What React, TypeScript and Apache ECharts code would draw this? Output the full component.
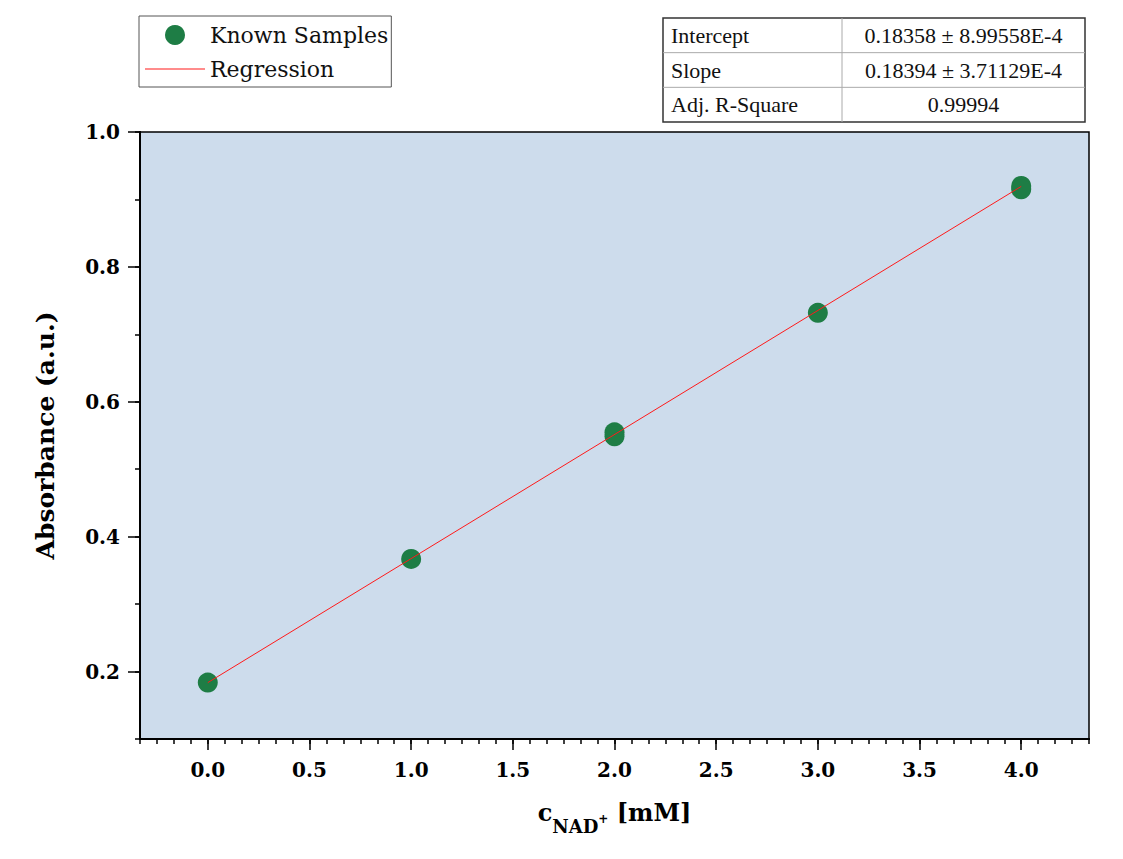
import React, { useEffect, useRef } from 'react';
import * as echarts from 'echarts';

// ---- data ----
const sampleX = [0, 1, 2, 2, 3, 4, 4];
const sampleY = [0.1837, 0.367, 0.5547, 0.5488, 0.7319, 0.92, 0.915];
const regressionX = [0, 4];
const regressionY = [0.18358, 0.91934];
const xMajorTicks = [0, 0.5, 1, 1.5, 2, 2.5, 3, 3.5, 4];
const yMajorTicks = [0.2, 0.4, 0.6, 0.8, 1.0];
const legendNames = ['Known Samples', 'Regression'];
const tableLabels = ['Intercept', 'Slope', 'Adj. R-Square'];
const tableValues = ['0.18358 ± 8.99558E-4', '0.18394 ± 3.71129E-4', '0.99994'];
const yTitle = 'Absorbance (a.u.)';

const X_MIN = -1 / 3;
const X_MAX = 13 / 3;
const Y_MIN = 0.1;
const Y_MAX = 1.0;

const SERIF = 'DejaVu Serif';
const TABLE_FONT = 'Liberation Serif';

export default function App() {
  const ref = useRef<HTMLDivElement>(null);

  useEffect(() => {
    if (!ref.current) return;
    const chart = echarts.init(ref.current, undefined, { renderer: 'svg' });

    const gridPos = { left: 140, right: 34, top: 132, bottom: 120, outerBoundsMode: 'none' };
    const axisLine = { show: true, onZero: false, lineStyle: { color: '#000', width: 2 } };
    const tickLine = { color: '#000', width: 1.5 };
    const labelStyle = { fontFamily: SERIF, fontWeight: 'bold' as const, fontSize: 20, color: '#000' };

    // table graphic
    const tLeft = 663, tTop = 18, tRight = 1085, tBottom = 122, tCol = 842;
    const rowH = (tBottom - tTop) / 3;
    const tableEls: any[] = [
      { type: 'rect', shape: { x: tLeft, y: tTop, width: tRight - tLeft, height: tBottom - tTop }, style: { fill: '#fff', stroke: '#333', lineWidth: 1.5 } },
      { type: 'line', shape: { x1: tCol, y1: tTop, x2: tCol, y2: tBottom }, style: { stroke: '#aaa', lineWidth: 1 } },
      { type: 'line', shape: { x1: tLeft, y1: tTop + rowH, x2: tRight, y2: tTop + rowH }, style: { stroke: '#aaa', lineWidth: 1 } },
      { type: 'line', shape: { x1: tLeft, y1: tTop + 2 * rowH, x2: tRight, y2: tTop + 2 * rowH }, style: { stroke: '#aaa', lineWidth: 1 } },
    ];
    tableLabels.forEach((lab, i) => {
      tableEls.push({
        type: 'text',
        x: tLeft + 8,
        y: tTop + rowH * (i + 0.5),
        style: { text: lab, fill: '#111', fontFamily: TABLE_FONT, fontSize: 22, textAlign: 'left', textVerticalAlign: 'middle' },
      });
      tableEls.push({
        type: 'text',
        x: (tCol + tRight) / 2,
        y: tTop + rowH * (i + 0.5),
        style: { text: tableValues[i], fill: '#111', fontFamily: TABLE_FONT, fontSize: 22, textAlign: 'center', textVerticalAlign: 'middle' },
      });
    });

    const option: any = {
      animation: false,
      backgroundColor: '#fff',
      grid: [
        { ...gridPos, show: true, backgroundColor: '#cddcec', borderColor: '#000', borderWidth: 1.5 },
        { ...gridPos, show: false },
      ],
      legend: {
        show: true,
        orient: 'vertical',
        left: 139,
        top: 16,
        padding: [8, 3, 7, 6],
        itemGap: 12,
        itemWidth: 60,
        itemHeight: 20,
        borderColor: '#555',
        borderWidth: 1,
        backgroundColor: '#fff',
        textStyle: { fontFamily: SERIF, fontSize: 22, color: '#111' },
        data: [
          { name: legendNames[0] },
          { name: legendNames[1], icon: 'path://M0 0H60V1.2H0Z' },
        ],
      },
      xAxis: [
        {
          gridIndex: 0,
          type: 'value',
          min: X_MIN,
          max: X_MAX,
          interval: 1 / 12,
          axisLine,
          axisTick: { show: true, length: 5, lineStyle: tickLine },
          axisLabel: { show: false },
          splitLine: { show: false },
        },
        {
          gridIndex: 1,
          type: 'value',
          min: X_MIN,
          max: X_MAX,
          axisLine,
          axisTick: { show: true, length: 11, customValues: xMajorTicks, lineStyle: tickLine },
          axisLabel: { ...labelStyle, customValues: xMajorTicks, margin: 21, formatter: (v: number) => v.toFixed(1) },
          splitLine: { show: false },
          name: '{m|c}{sub|NAD}{sup|+}{m| [mM]}',
          nameLocation: 'middle',
          nameGap: 66,
          nameTextStyle: {
            rich: {
              m: { fontFamily: SERIF, fontWeight: 'bold', fontSize: 24, color: '#000', lineHeight: 28, padding: [0, 0, 14, 0] },
              sub: { fontFamily: SERIF, fontWeight: 'bold', fontSize: 18, color: '#000', lineHeight: 22, padding: [14, 0, 0, 0] },
              sup: { fontFamily: SERIF, fontWeight: 'bold', fontSize: 12, color: '#000', lineHeight: 14 },
            },
          },
        },
      ],
      yAxis: [
        {
          gridIndex: 0,
          type: 'value',
          min: Y_MIN,
          max: Y_MAX,
          interval: 0.1,
          axisLine,
          axisTick: { show: true, length: 5, lineStyle: tickLine },
          axisLabel: { show: false },
          splitLine: { show: false },
        },
        {
          gridIndex: 1,
          type: 'value',
          min: Y_MIN,
          max: Y_MAX,
          axisLine,
          axisTick: { show: true, length: 12, customValues: yMajorTicks, lineStyle: tickLine },
          axisLabel: { ...labelStyle, customValues: yMajorTicks, margin: 20, formatter: (v: number) => v.toFixed(1) },
          splitLine: { show: false },
          name: yTitle,
          nameLocation: 'middle',
          nameGap: 82,
          nameTextStyle: { fontFamily: SERIF, fontWeight: 'bold', fontSize: 25, color: '#000' },
        },
      ],
      series: [
        {
          name: legendNames[0],
          type: 'scatter',
          xAxisIndex: 1,
          yAxisIndex: 1,
          symbol: 'circle',
          symbolSize: 20,
          itemStyle: { color: '#1e7d45', opacity: 1 },
          data: sampleX.map((x, i) => [x, sampleY[i]]),
        },
        {
          name: legendNames[1],
          type: 'line',
          xAxisIndex: 1,
          yAxisIndex: 1,
          symbol: 'none',
          showSymbol: false,
          lineStyle: { color: '#ff1a1a', width: 1 },
          itemStyle: { color: '#ff1a1a' },
          data: regressionX.map((x, i) => [x, regressionY[i]]),
        },
      ],
      graphic: tableEls,
    };

    chart.setOption(option);
    return () => chart.dispose();
  }, []);

  return (
    <div
      ref={ref}
      style={{ position: 'fixed', left: 0, top: 0, width: 1123, height: 859, background: '#fff' }}
    />
  );
}
